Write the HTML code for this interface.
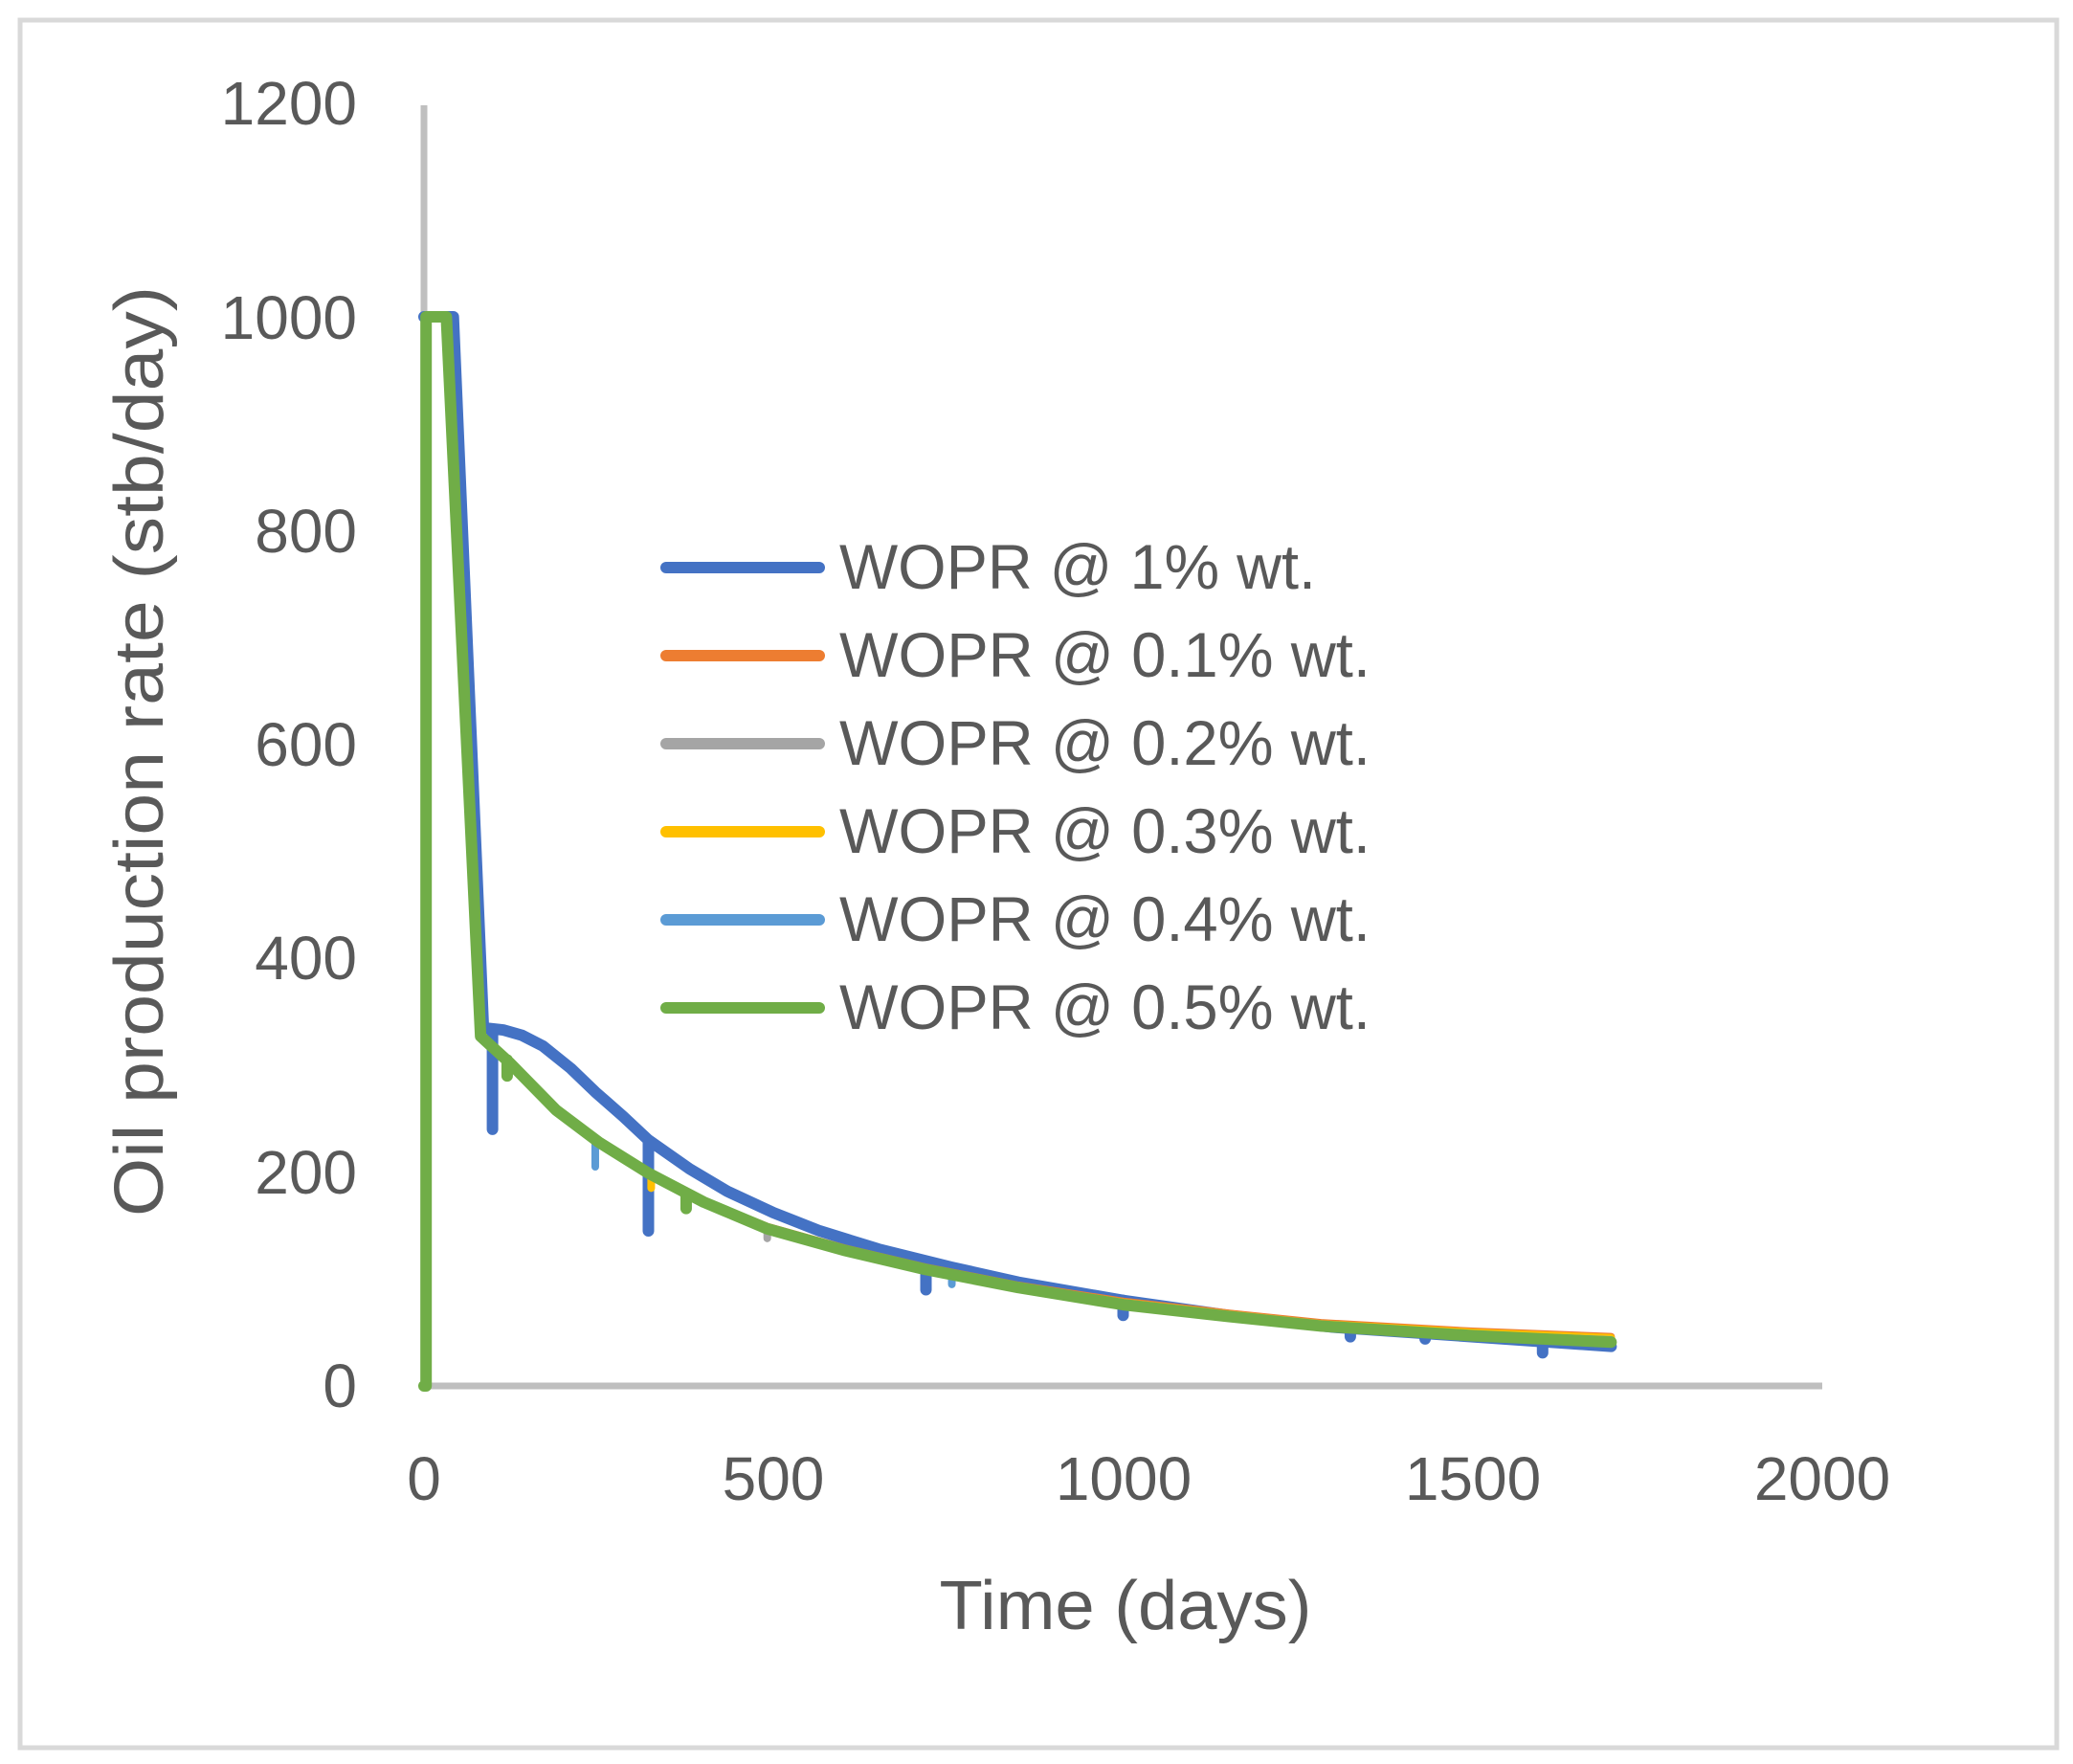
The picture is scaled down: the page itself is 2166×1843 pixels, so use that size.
<!DOCTYPE html>
<html><head><meta charset="utf-8"><style>
html,body{margin:0;padding:0;background:#fff;}
svg{display:block;}
text{font-family:"Liberation Sans",sans-serif;fill:#595959;}
</style></head><body>
<svg width="2166" height="1843" viewBox="0 0 2166 1843" xmlns="http://www.w3.org/2000/svg">
<rect x="0" y="0" width="2166" height="1843" fill="#fff"/>
<rect x="21" y="21" width="2128" height="1805" fill="none" stroke="#d9d9d9" stroke-width="5"/>
<!-- axes -->
<line x1="443" y1="110" x2="443" y2="1448" stroke="#bfbfbf" stroke-width="7"/>
<line x1="443" y1="1448" x2="1904" y2="1448" stroke="#bfbfbf" stroke-width="7"/>
<g font-size="64" text-anchor="end">
<text x="373" y="1470">0</text>
<text x="373" y="1247">200</text>
<text x="373" y="1023">400</text>
<text x="373" y="800">600</text>
<text x="373" y="577">800</text>
<text x="373" y="354">1000</text>
<text x="373" y="130">1200</text>
</g>
<g font-size="64" text-anchor="middle">
<text x="443" y="1567">0</text>
<text x="808" y="1567">500</text>
<text x="1174" y="1567">1000</text>
<text x="1539" y="1567">1500</text>
<text x="1904" y="1567">2000</text>
</g>
<text x="1176" y="1702" font-size="72" text-anchor="middle" textLength="389" lengthAdjust="spacingAndGlyphs">Time (days)</text>
<text transform="translate(170,785) rotate(-90)" font-size="72" text-anchor="middle" textLength="972" lengthAdjust="spacingAndGlyphs">Oil production rate (stb/day)</text>
<!-- series -->
<g transform="translate(443,1448) scale(0.7305,-1.117)" fill="none" stroke-linejoin="round" stroke-linecap="round">
<path vector-effect="non-scaling-stroke" stroke="#4472c4" stroke-width="12" d="M0,1000 L42,1000 L85,335 L113,333 L140,328 L170,318 L210,297 L245,275 L285,252 L321,230 L380,203 L434,182 L500,162 L566,145 L650,128 L755,111 L850,97 L1000,80 L1150,66 L1300,55 L1500,46 L1698,37"/>
<path vector-effect="non-scaling-stroke" stroke="#4472c4" stroke-width="12" d="M98,330 L98,240 M321,228 L321,145 M718,112 L718,90 M1000,80 L1000,66 M1325,54 L1325,46 M1432,48 L1432,44 M1600,41 L1600,31"/>
<path vector-effect="non-scaling-stroke" stroke="#ed7d31" stroke-width="8" d="M3,1000 L32,1000 L81,327 L123,302 L189,258 L250,228 L321,199 L400,173 L491,149 L600,129 L717,111 L850,94 L1000,79 L1150,68 L1283,59 L1500,51 L1698,46"/>
<path vector-effect="non-scaling-stroke" stroke="#a5a5a5" stroke-width="8" d="M3,1000 L32,1000 L81,327 L123,302 L189,258 L250,228 L321,199 L400,172 L491,148 L600,128 L717,110 L850,93 L1000,78 L1150,67 L1283,58 L1500,49 L1698,44 M491,148 L491,138"/>
<path vector-effect="non-scaling-stroke" stroke="#ffc000" stroke-width="8" d="M3,1000 L32,1000 L81,327 L123,302 L189,258 L250,228 L321,199 L400,173 L491,148 L600,128 L717,110 L850,93 L1000,78 L1150,67 L1283,58 L1500,50 L1698,45 M325,198 L325,185"/>
<path vector-effect="non-scaling-stroke" stroke="#5b9bd5" stroke-width="8" d="M3,1000 L32,1000 L81,327 L123,302 L189,258 L250,228 L321,199 L400,172 L491,147 L600,127 L717,109 L850,92 L1000,77 L1150,66 L1283,57 L1500,48 L1698,43 M245,230 L245,205 M755,104 L755,95"/>
<path vector-effect="non-scaling-stroke" stroke="#70ad47" stroke-width="12" d="M0,0 L3,0 L3,1000 L32,1000 L81,327 L123,302 L189,258 L250,228 L321,199 L400,172 L491,147 L600,127 L717,109 L850,92 L1000,76 L1150,65 L1283,56 L1500,47 L1698,41 M119,305 L119,290 M375,180 L375,166"/>
</g>
<!-- legend -->
<g stroke-width="12" stroke-linecap="round">
<line x1="696" y1="593" x2="856" y2="593" stroke="#4472c4"/>
<line x1="696" y1="685" x2="856" y2="685" stroke="#ed7d31"/>
<line x1="696" y1="777" x2="856" y2="777" stroke="#a5a5a5"/>
<line x1="696" y1="869" x2="856" y2="869" stroke="#ffc000"/>
<line x1="696" y1="961" x2="856" y2="961" stroke="#5b9bd5"/>
<line x1="696" y1="1053" x2="856" y2="1053" stroke="#70ad47"/>
</g>
<g font-size="66">
<text x="877" y="615" textLength="498" lengthAdjust="spacingAndGlyphs">WOPR @ 1% wt.</text>
<text x="877" y="707" textLength="555" lengthAdjust="spacingAndGlyphs">WOPR @ 0.1% wt.</text>
<text x="877" y="799" textLength="555" lengthAdjust="spacingAndGlyphs">WOPR @ 0.2% wt.</text>
<text x="877" y="891" textLength="555" lengthAdjust="spacingAndGlyphs">WOPR @ 0.3% wt.</text>
<text x="877" y="983" textLength="555" lengthAdjust="spacingAndGlyphs">WOPR @ 0.4% wt.</text>
<text x="877" y="1075" textLength="555" lengthAdjust="spacingAndGlyphs">WOPR @ 0.5% wt.</text>
</g>
</svg>
</body></html>
